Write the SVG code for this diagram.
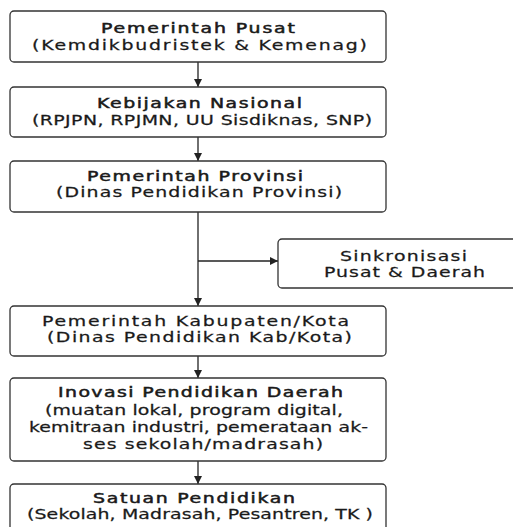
<svg xmlns="http://www.w3.org/2000/svg" width="513" height="527" viewBox="0 0 513 527">
  <style>
    .box { fill: #ffffff; stroke: #333333; stroke-width: 1.3; }
    .t { font-family: "DejaVu Sans", "Open Sans", sans-serif; font-size: 14px; fill: #1a1a1a; text-anchor: middle; }
    .h { stroke: #1a1a1a; stroke-width: 0.5; }
    .s { stroke: #1a1a1a; stroke-width: 0.25; }
    .c { fill: none; stroke: #222222; stroke-width: 1.3; }
  </style>
  <defs>
    <marker id="arr" viewBox="0 0 10 10" refX="10" refY="5" markerWidth="8" markerHeight="8" markerUnits="userSpaceOnUse" orient="auto">
      <path d="M0,0 L10,5 L0,10 z" fill="#222222"/>
    </marker>
  </defs>
  <rect width="513" height="527" fill="#ffffff"/>

  <g id="connectors">
    <line class="c" x1="198" y1="62" x2="198" y2="87" marker-end="url(#arr)"/>
    <line class="c" x1="198" y1="137" x2="198" y2="161" marker-end="url(#arr)"/>
    <line class="c" x1="198" y1="212" x2="198" y2="306" marker-end="url(#arr)"/>
    <line class="c" x1="198" y1="261" x2="278" y2="261" marker-end="url(#arr)"/>
    <line class="c" x1="198" y1="356" x2="198" y2="378" marker-end="url(#arr)"/>
    <line class="c" x1="198" y1="461" x2="198" y2="484" marker-end="url(#arr)"/>
  </g>

  <g id="pusat">
    <rect class="box" x="10" y="11" width="376" height="51" rx="4"/>
    <text class="t h" transform="matrix(1.35 0 0 1 198 32.5)" textLength="143.7" lengthAdjust="spacing">Pemerintah Pusat</text>
    <text class="t s" transform="matrix(1.35 0 0 1 199.5 49.5)" textLength="248.1" lengthAdjust="spacing">(Kemdikbudristek &amp; Kemenag)</text>
  </g>

  <g id="kebijakan">
    <rect class="box" x="10" y="87" width="376" height="50" rx="4"/>
    <text class="t h" transform="matrix(1.35 0 0 1 199.5 107.5)" textLength="151.9" lengthAdjust="spacing">Kebijakan Nasional</text>
    <text class="t s" transform="matrix(1.35 0 0 1 202 124.5)" textLength="251.9" lengthAdjust="spacing">(RPJPN, RPJMN, UU Sisdiknas, SNP)</text>
  </g>

  <g id="provinsi">
    <rect class="box" x="10" y="161" width="376" height="51" rx="4"/>
    <text class="t h" transform="matrix(1.35 0 0 1 195 180.5)" textLength="160" lengthAdjust="spacing">Pemerintah Provinsi</text>
    <text class="t s" transform="matrix(1.35 0 0 1 199 196.5)" textLength="211.9" lengthAdjust="spacing">(Dinas Pendidikan Provinsi)</text>
  </g>

  <g id="sinkronisasi">
    <rect class="box" x="278" y="239" width="252" height="49" rx="4"/>
    <text class="t s" transform="matrix(1.35 0 0 1 403.5 260.5)" textLength="94.1" lengthAdjust="spacing">Sinkronisasi</text>
    <text class="t s" transform="matrix(1.35 0 0 1 404.5 276.5)" textLength="119.3" lengthAdjust="spacing">Pusat &amp; Daerah</text>
  </g>

  <g id="kabupaten">
    <rect class="box" x="10" y="306" width="376" height="50" rx="4"/>
    <text class="t s" transform="matrix(1.35 0 0 1 195.5 325.5)" textLength="227.4" lengthAdjust="spacing">Pemerintah Kabupaten/Kota</text>
    <text class="t s" transform="matrix(1.35 0 0 1 199.5 341.5)" textLength="225.9" lengthAdjust="spacing">(Dinas Pendidikan Kab/Kota)</text>
  </g>

  <g id="inovasi">
    <rect class="box" x="10" y="378" width="376" height="83" rx="4"/>
    <text class="t h" transform="matrix(1.35 0 0 1 200.5 396.5)" textLength="211.1" lengthAdjust="spacing">Inovasi Pendidikan Daerah</text>
    <text class="t s" transform="matrix(1.35 0 0 1 194 414.5)" textLength="220.7" lengthAdjust="spacing">(muatan lokal, program digital,</text>
    <text class="t s" transform="matrix(1.35 0 0 1 198.5 431.5)" textLength="251.1" lengthAdjust="spacing">kemitraan industri, pemerataan ak-</text>
    <text class="t s" transform="matrix(1.35 0 0 1 203 448.5)" textLength="177.8" lengthAdjust="spacing">ses sekolah/madrasah)</text>
  </g>

  <g id="satuan">
    <rect class="box" x="10" y="484" width="376" height="60" rx="4"/>
    <text class="t h" transform="matrix(1.35 0 0 1 194 502.5)" textLength="149.6" lengthAdjust="spacing">Satuan Pendidikan</text>
    <text class="t s" transform="matrix(1.35 0 0 1 200 518.5)" textLength="256.3" lengthAdjust="spacing">(Sekolah, Madrasah, Pesantren, TK )</text>
  </g>
</svg>
